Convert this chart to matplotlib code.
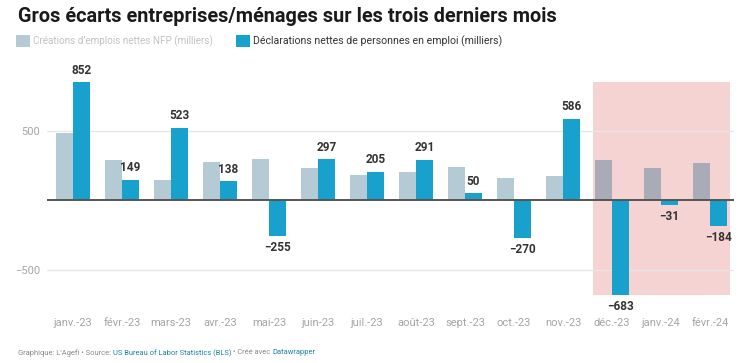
import matplotlib.pyplot as plt
from matplotlib.patches import Rectangle

plt.rcParams['font.family'] = ['Roboto', 'DejaVu Sans']

mois = ['janv.-23', 'févr.-23', 'mars-23', 'avr.-23', 'mai-23', 'juin-23', 'juil.-23',
        'août-23', 'sept.-23', 'oct.-23', 'nov.-23', 'déc.-23', 'janv.-24', 'févr.-24']
nfp = [482, 287, 146, 278, 301, 236, 184, 206, 243, 163, 177, 287, 229, 272]
menages = [852, 149, 523, 138, -255, 297, 205, 291, 50, -270, 586, -683, -31, -184]
debut_zone = 11  # trois derniers mois surlignés

GRIS = '#b4cbd6'
GRIS_ZONE = '#a9abb7'
BLEU = '#18a1cd'
ROSE = '#f4d3d2'

fig = plt.figure(figsize=(7.42, 3.63), dpi=100)
ax = fig.add_axes([47 / 742, 63 / 363, 687 / 742, 240 / 363])

x = list(range(len(mois)))
w = 0.347
couleurs_nfp = [GRIS_ZONE if i >= debut_zone else GRIS for i in x]
ax.bar([i - w / 2 for i in x], nfp, width=w, color=couleurs_nfp, zorder=3)
ax.bar([i + w / 2 for i in x], menages, width=w, color=BLEU, zorder=3)

# zone des trois derniers mois
ymin, ymax = min(menages), max(menages)
ax.add_patch(Rectangle((debut_zone - 0.39, ymin), len(mois) - debut_zone - 0.2, ymax - ymin,
                       color=ROSE, zorder=1, lw=0))

for i, v in enumerate(menages):
    if v >= 0:
        ax.annotate(str(v), (i + w / 2, v), xytext=(0, 4), textcoords='offset points',
                    ha='center', va='bottom', fontsize=8.5, fontweight='bold', color='#333333')
    else:
        ax.annotate('\u2212' + str(-v), (i + w / 2, v), xytext=(0, -4), textcoords='offset points',
                    ha='center', va='top', fontsize=8.5, fontweight='bold', color='#333333')

ax.set_xlim(-0.53, 13.49)
ax.set_ylim(-720, 1012)
ax.set_yticks([-500, 500])
ax.set_yticklabels(['\u2212500', '500'])
ax.set_xticks(x)
ax.set_xticklabels(mois)
ax.grid(axis='y', color='#e6e6e6', lw=0.9, zorder=0)
ax.axhline(0, color='#555555', lw=1.4, zorder=4)
for s in ax.spines.values():
    s.set_visible(False)
ax.tick_params(length=0, labelsize=8, labelcolor='#a5a5a5')
ax.tick_params(axis='x', pad=13)
ax.tick_params(axis='y', pad=5)

# titre
fig.text(18 / 742, 1 - 16 / 363, 'Gros écarts entreprises/ménages sur les trois derniers mois',
         fontsize=14.3, fontweight='bold', color='#1a1a1a', va='center')

# légende
fig.patches.append(Rectangle((16 / 742, 1 - 47 / 363), 14 / 742, 12 / 363,
                             transform=fig.transFigure, color=GRIS, lw=0))
fig.text(33 / 742, 1 - 41 / 363, 'Créations d\u2019emplois nettes NFP (milliers)',
         fontsize=7.1, color='#c2c2c2', va='center')
fig.patches.append(Rectangle((236 / 742, 1 - 47 / 363), 14 / 742, 12 / 363,
                             transform=fig.transFigure, color=BLEU, lw=0))
fig.text(253 / 742, 1 - 41 / 363, 'Déclarations nettes de personnes en emploi (milliers)',
         fontsize=7.6, color='#333333', va='center')

# pied de page
morceaux = [('Graphique: L\u2019Agefi \u2022 Source: ', '#888888'),
            ('US Bureau of Labor Statistics (BLS)', '#1d81a2'),
            (' \u2022 Créé avec ', '#888888'),
            ('Datawrapper', '#1d81a2')]
fig.canvas.draw()
r = fig.canvas.get_renderer()
xpos = 18 / 742
for txt, c in morceaux:
    t = fig.text(xpos, 1 - 353 / 363, txt, fontsize=5.4, color=c, va='center')
    bb = t.get_window_extent(renderer=r)
    xpos += bb.width / fig.bbox.width

fig.savefig('out.png', dpi=100)
